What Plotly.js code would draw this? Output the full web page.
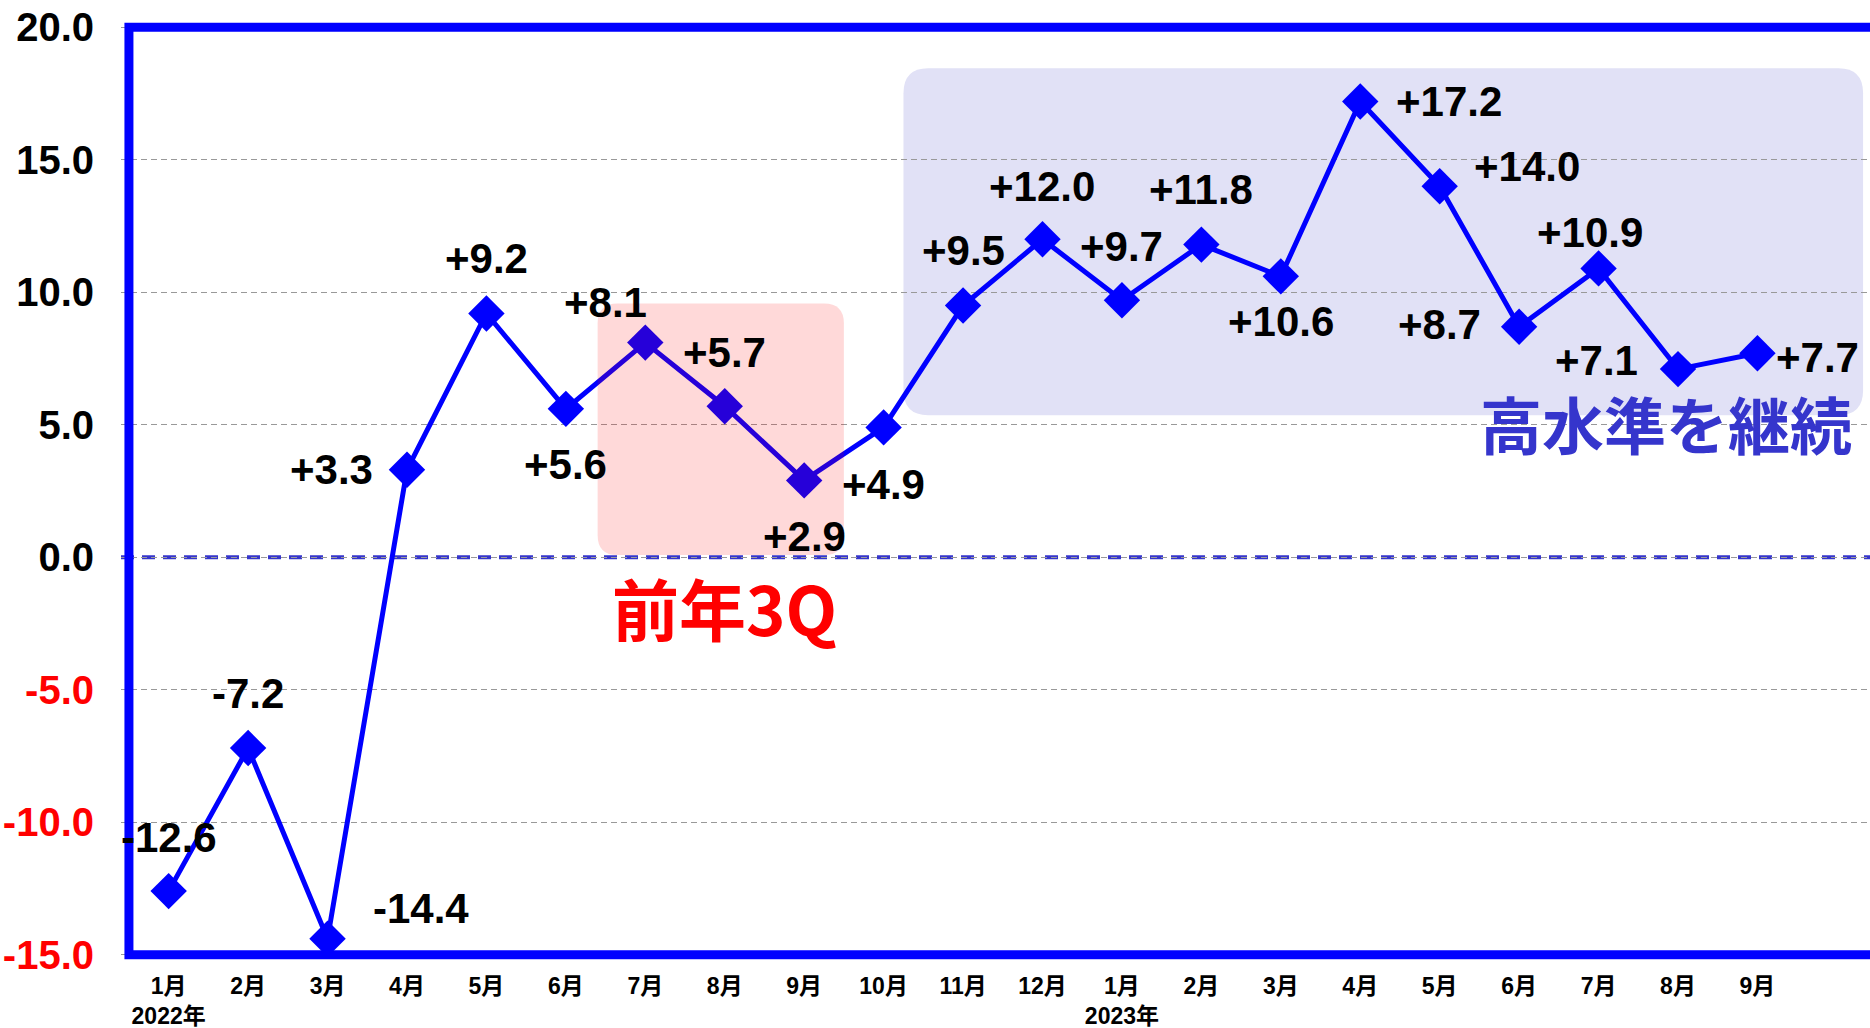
<!DOCTYPE html>
<html><head><meta charset="utf-8">
<script src="https://cdn.plot.ly/plotly-3.0.1.min.js"></script>
<style>html,body{margin:0;padding:0;overflow:hidden;background:#fff}</style>
</head><body><div id="chart" style="width:1870px;height:1028px"></div>
<script>
// ---- data ----
const months = ['1月','2月','3月','4月','5月','6月','7月','8月','9月','10月','11月','12月',
                '1月','2月','3月','4月','5月','6月','7月','8月','9月'];
const years = ['2022年','','','','','','','','','','','','2023年','','','','','','','',''];
const values = [-12.6,-7.2,-14.4,3.3,9.2,5.6,8.1,5.7,2.9,4.9,9.5,12.0,9.7,11.8,10.6,17.2,14.0,8.7,10.9,7.1,7.7];
const valueLabels = ['-12.6','-7.2','-14.4','+3.3','+9.2','+5.6','+8.1','+5.7','+2.9','+4.9','+9.5','+12.0',
                     '+9.7','+11.8','+10.6','+17.2','+14.0','+8.7','+10.9','+7.1','+7.7'];
const yTickVals = [20,15,10,5,0,-5,-10,-15];
const yTickText = ['20.0','15.0','10.0','5.0','0.0','-5.0','-10.0','-15.0'];

// ---- style / placement ----
const labelOffsets = [[0,-54],[0,-55],[93,-30],[-75,0],[0,-55],[0,56],[-40,-40],[0,-54],[0,56],[0,57],
  [0,-55],[0,-53],[0,-54],[0,-55],[0,45],[89,0],[87,-20],[-80,-2],[-9,-36],[-82,-9],[60,4]];

const xIdx = values.map((_, i) => i);
const tickText = months.map((m, i) => years[i] ? m + '<br>' + years[i] : m);
const yText = yTickText.map((t, i) => yTickVals[i] < 0 ? '<span style="color:#FF0000">' + t + '</span>' : t);
const yTop = yTickVals[0], yBottom = yTickVals[yTickVals.length - 1];

function roundRect(x0, x1, y0, y1, rx, ry) {
  return `M ${x0+rx},${y0} L ${x1-rx},${y0} Q ${x1},${y0} ${x1},${y0+ry} L ${x1},${y1-ry} Q ${x1},${y1} ${x1-rx},${y1} ` +
         `L ${x0+rx},${y1} Q ${x0},${y1} ${x0},${y1-ry} L ${x0},${y0+ry} Q ${x0},${y0} ${x0+rx},${y0} Z`;
}

const trace = {
  x: xIdx, y: values, type: 'scatter', mode: 'lines+markers',
  line: {color: '#0000FF', width: 5},
  marker: {symbol: 'diamond', size: 28, color: '#0000FF'},
  cliponaxis: false, hoverinfo: 'skip'
};

const labelFont = {family: 'Arial, "Liberation Sans", sans-serif', size: 42, color: '#000', weight: 700};
const annotations = values.map((v, i) => ({
  x: i, y: v, xref: 'x', yref: 'y', text: valueLabels[i], showarrow: false,
  xshift: labelOffsets[i][0], yshift: -labelOffsets[i][1], font: labelFont
}));
annotations.push({x: 7.0, y: -1.85, xref: 'x', yref: 'y', text: '前年3Q', showarrow: false,
  font: {family: '"Noto Sans CJK JP", sans-serif', size: 67, color: '#FF0000', weight: 700}});
annotations.push({x: 18.85, y: 5.05, xref: 'x', yref: 'y', text: '高水準を継続', showarrow: false,
  font: {family: '"Noto Sans CJK JP", sans-serif', size: 62, color: '#3535CC', weight: 700}});

const layout = {
  width: 1870, height: 1028,
  margin: {l: 121, r: 0, t: 22, b: 68},
  paper_bgcolor: '#fff', plot_bgcolor: '#fff',
  showlegend: false,
  xaxis: {
    range: [-0.6, 21.417], tickmode: 'array', tickvals: xIdx, ticktext: tickText,
    showgrid: false, zeroline: false, showline: false,
    ticks: '', ticklabelstandoff: 10,
    tickfont: {family: 'Arial, "Liberation Sans", "Noto Sans CJK JP", sans-serif', size: 23, color: '#000', weight: 700}
  },
  yaxis: {
    range: [-15.2, 20.2], tickmode: 'array', tickvals: yTickVals, ticktext: yText,
    showgrid: true, gridcolor: '#999999', gridwidth: 1.3, griddash: '6px,4px',
    zeroline: false, showline: false,
    ticks: '', ticklabelstandoff: 26,
    tickfont: {family: 'Arial, "Liberation Sans", sans-serif', size: 40, color: '#000', weight: 700}
  },
  shapes: [
    {type: 'path', xref: 'x', yref: 'y', layer: 'below', path: roundRect(9.25, 21.33, 5.36, 18.45, 0.31, 0.94),
     fillcolor: '#E1E1F6', line: {width: 0}},
    {type: 'line', xref: 'paper', yref: 'y', x0: 0, x1: 1, y0: 0, y1: 0, layer: 'between',
     line: {color: '#3535CC', width: 4, dash: '13px,8px'}},
    {type: 'path', xref: 'x', yref: 'y', layer: 'above', path: roundRect(5.4, 8.5, 0.08, 9.58, 0.25, 0.75),
     fillcolor: 'rgba(255,0,0,0.15)', line: {width: 0}},
    {type: 'path', xref: 'x', yref: 'y', layer: 'between',
     path: `M 22,${yTop} L -0.5,${yTop} L -0.5,${yBottom} L 22,${yBottom}`,
     fillcolor: 'rgba(0,0,0,0)', line: {color: '#0000FF', width: 9}}
  ],
  annotations: annotations
};

Plotly.newPlot('chart', [trace], layout, {displayModeBar: false, staticPlot: true});
</script></body></html>
